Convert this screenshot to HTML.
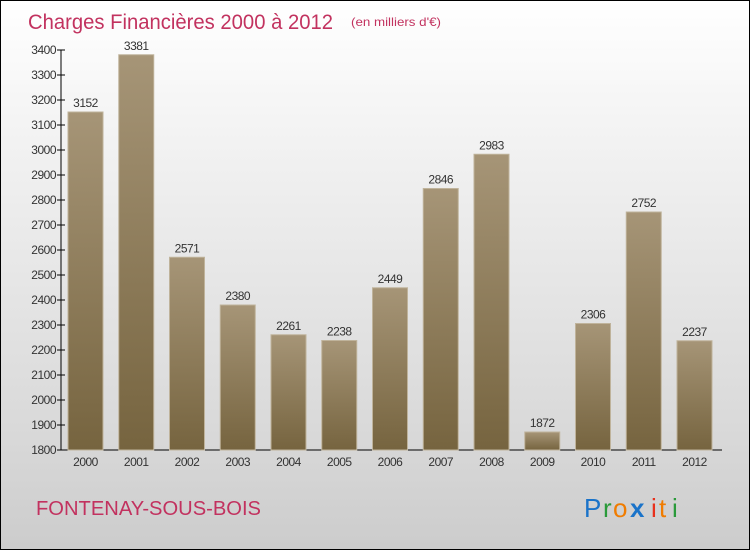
<!DOCTYPE html>
<html><head><meta charset="utf-8"><style>
body{margin:0}
#c{position:relative;width:748px;height:548px;border:1px solid #000;background:linear-gradient(#ffffff,#f0f0f0 30%,#d8d8d8 80%,#cccccc);font-family:"Liberation Sans",sans-serif;overflow:hidden}
</style></head><body>
<div id="c">
<svg width="748" height="548">
<defs><linearGradient id="bg" x1="0" y1="0" x2="0" y2="1"><stop offset="0" stop-color="#a69577"/><stop offset="1" stop-color="#76643f"/></linearGradient></defs>
<text x="27" y="28" font-size="21" fill="#c2325f" textLength="305" lengthAdjust="spacingAndGlyphs">Charges Financières 2000 à 2012</text>
<text x="350" y="25" font-size="12" fill="#c2325f" textLength="90" lengthAdjust="spacingAndGlyphs">(en milliers d'€)</text>
<g id="plot"></g>
<text x="35" y="514" font-size="20" fill="#c2325f" textLength="225" lengthAdjust="spacingAndGlyphs">FONTENAY-SOUS-BOIS</text>
<g font-size="26">
<text x="583" y="516" fill="#1a73c9">P</text><text x="602" y="516" fill="#2a9a3a">r</text><text x="612" y="516" fill="#f07c00">o</text><text x="629" y="516" font-weight="bold" fill="#1a73c9">x</text><text x="650" y="516" fill="#e8301c">i</text><text x="658" y="516" fill="#f07c00">t</text><text x="671" y="516" fill="#2a9a3a">i</text></g>
</svg></div>
<script>
const categories=["2000","2001","2002","2003","2004","2005","2006","2007","2008","2009","2010","2011","2012"];
const values=[3152,3381,2571,2380,2261,2238,2449,2846,2983,1872,2306,2752,2237];
const ticks=[1800,1900,2000,2100,2200,2300,2400,2500,2600,2700,2800,2900,3000,3100,3200,3300,3400];
const ns="http://www.w3.org/2000/svg";
const g=document.getElementById('plot');
const y=v=>449-(v-1800)*0.25;
const x=i=>67+i*50.75;
function mk(t,a,txt){const e=document.createElementNS(ns,t);for(const k in a)e.setAttribute(k,a[k]);if(txt!==undefined)e.textContent=txt;g.appendChild(e);return e;}
let ax=mk('line',{x1:60,y1:49,x2:60,y2:449,stroke:'#000'});


let bx=mk('line',{x1:60,y1:449,x2:721,y2:449,stroke:'#000'});


ticks.forEach(t=>{
 let l=mk('line',{x1:56,y1:y(t),x2:64,y2:y(t),stroke:'#000'});
 
 
 let tx=mk('text',{x:55,y:y(t)+4,'font-size':12,fill:'#333','text-anchor':'end','letter-spacing':'-0.5'},t);
 
 
});
categories.forEach((c,i)=>{
 let r=mk('rect',{x:x(i),y:y(values[i]),width:35,height:449-y(values[i]),fill:'url(#bg)',stroke:'#bfb39b','stroke-width':1});
 
 
 let v=mk('text',{x:x(i)+17.5,y:y(values[i])-5,'font-size':12,fill:'#333','text-anchor':'middle','letter-spacing':'-0.5'},values[i]);
 
 
 let l=mk('text',{x:x(i)+17.5,y:465,'font-size':12,fill:'#333','text-anchor':'middle','letter-spacing':'-0.5'},c);
 
 
});
</script>
</body></html>
